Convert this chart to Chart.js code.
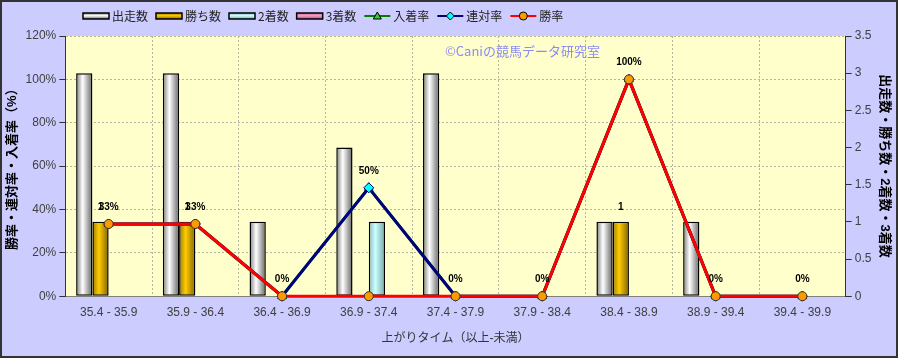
<!DOCTYPE html>
<html>
<head>
    <title>上がりタイム別成績</title>
    <style>
        body {
            margin: 0;
            padding: 0;
            background: #ffffff;
        }
        #chart-box {
            width: 898px;
            height: 358px;
        }
    </style>
    <script src="https://cdn.jsdelivr.net/npm/chart.js"></script>
</head>
<body>
    <div id="chart-box">
        <canvas id="agariChart" width="898" height="358"></canvas>
    </div>
    <script>
        // data
        const categories = ['35.4 - 35.9', '35.9 - 36.4', '36.4 - 36.9', '36.9 - 37.4', '37.4 - 37.9',
                            '37.9 - 38.4', '38.4 - 38.9', '38.9 - 39.4', '39.4 - 39.9'];
        const runs = [3, 3, 1, 2, 3, 0, 1, 1, 0];       // 出走数
        const wins = [1, 1, 0, 0, 0, 0, 1, 0, 0];       // 勝ち数
        const seconds = [0, 0, 0, 1, 0, 0, 0, 0, 0];    // 2着数
        const thirds = [0, 0, 0, 0, 0, 0, 0, 0, 0];     // 3着数
        const placeRate = [33.3, 33.3, 0, 50, 0, 0, 100, 0, 0];   // 入着率
        const quinellaRate = [33.3, 33.3, 0, 50, 0, 0, 100, 0, 0]; // 連対率
        const winRate = [33.3, 33.3, 0, 0, 0, 0, 100, 0, 0];      // 勝率
        const rateTicks = [0, 20, 40, 60, 80, 100, 120];
        const countTicks = [0, 0.5, 1, 1.5, 2, 2.5, 3, 3.5];

        const CAT_PCT = 0.75;
        const BAR_COUNT = 4;

        // cylinder-ish shading for each bar series: [edge, light, far edge]
        const barShades = [
            ['#7c7c7c', '#ffffff', '#646464'],
            ['#a07c00', '#ffcc00', '#806200'],
            ['#88bcbc', '#ccffff', '#78a8a8'],
            ['#c07090', '#ff99cc', '#a05a78']
        ];

        function barFill(c) {
            const shade = barShades[c.datasetIndex];
            const xs = c.chart.scales && c.chart.scales.x;
            if (c.type !== 'data' || !xs || !xs.width) {
                return shade[1];
            }
            const catW = xs.width / categories.length;
            const groupW = catW * CAT_PCT;
            const barW = groupW / BAR_COUNT;
            const left = xs.getPixelForValue(c.dataIndex) - groupW / 2 + c.datasetIndex * barW;
            const g = c.chart.ctx.createLinearGradient(left, 0, left + barW, 0);
            g.addColorStop(0, shade[0]);
            g.addColorStop(0.4, shade[1]);
            g.addColorStop(1, shade[2]);
            return g;
        }

        const backgroundPlugin = {
            id: 'backgroundPlugin',
            beforeDraw(chart) {
                const ctx = chart.ctx;
                const a = chart.chartArea;
                ctx.save();
                ctx.fillStyle = '#ccccff';
                ctx.fillRect(0, 0, chart.width, chart.height);
                ctx.fillStyle = '#ffffcc';
                ctx.fillRect(a.left, a.top, a.right - a.left, a.bottom - a.top);
                ctx.restore();
            },
            afterDraw(chart) {
                const ctx = chart.ctx;
                ctx.save();
                ctx.strokeStyle = '#333333';
                ctx.lineWidth = 2;
                ctx.strokeRect(1, 1, chart.width - 2, chart.height - 2);

                // watermark
                ctx.font = '13px "Noto Sans CJK JP", sans-serif';
                ctx.fillStyle = '#8c8cf5';
                ctx.textBaseline = 'middle';
                ctx.fillText('©Caniの競馬データ研究室', 445, 51);

                // legend
                const items = [
                    { text: '出走数', bar: 0 },
                    { text: '勝ち数', bar: 1 },
                    { text: '2着数', bar: 2 },
                    { text: '3着数', bar: 3 },
                    { text: '入着率', line: '#008000', fill: '#33cc33', style: 'triangle' },
                    { text: '連対率', line: '#000080', fill: '#00ffff', style: 'diamond' },
                    { text: '勝率', line: '#ff0000', fill: '#ff9900', style: 'circle' }
                ];
                ctx.font = '12px "Noto Sans CJK JP", sans-serif';
                let x = 83;
                const y = 16;
                items.forEach(item => {
                    if (item.bar !== undefined) {
                        const s = barShades[item.bar];
                        const g = ctx.createLinearGradient(0, y - 3, 0, y + 3);
                        g.addColorStop(0, s[0]);
                        g.addColorStop(0.45, s[1]);
                        g.addColorStop(1, s[2]);
                        ctx.fillStyle = g;
                        ctx.fillRect(x, y - 3, 26, 6);
                        ctx.strokeStyle = '#000';
                        ctx.lineWidth = 1.5;
                        ctx.strokeRect(x, y - 3, 26, 6);
                    } else {
                        ctx.strokeStyle = item.line;
                        ctx.lineWidth = 2;
                        ctx.beginPath();
                        ctx.moveTo(x, y);
                        ctx.lineTo(x + 26, y);
                        ctx.stroke();
                        ctx.fillStyle = item.fill;
                        ctx.strokeStyle = '#000';
                        ctx.lineWidth = 1;
                        ctx.beginPath();
                        const cx = x + 13;
                        if (item.style === 'circle') {
                            ctx.arc(cx, y, 4, 0, Math.PI * 2);
                        } else if (item.style === 'diamond') {
                            ctx.moveTo(cx, y - 4); ctx.lineTo(cx + 4, y);
                            ctx.lineTo(cx, y + 4); ctx.lineTo(cx - 4, y);
                            ctx.closePath();
                        } else {
                            ctx.moveTo(cx, y - 4); ctx.lineTo(cx + 4, y + 3);
                            ctx.lineTo(cx - 4, y + 3);
                            ctx.closePath();
                        }
                        ctx.fill();
                        ctx.stroke();
                    }
                    ctx.fillStyle = '#222';
                    ctx.textBaseline = 'middle';
                    ctx.fillText(item.text, x + 29, y);
                    x += 29 + ctx.measureText(item.text).width + 8;
                });
                ctx.restore();
            }
        };

        const valueLabelPlugin = {
            id: 'valueLabelPlugin',
            afterDatasetsDraw(chart) {
                const ctx = chart.ctx;
                ctx.save();
                ctx.font = 'bold 10px "Liberation Sans", sans-serif';
                ctx.fillStyle = '#000';
                ctx.textAlign = 'center';
                ctx.textBaseline = 'middle';
                chart.getDatasetMeta(1).data.forEach((el, i) => {
                    if (wins[i] > 0) {
                        ctx.fillText(String(wins[i]), el.x, el.y - 15);
                    }
                });
                chart.getDatasetMeta(5).data.forEach((el, i) => {
                    ctx.fillText(Math.round(quinellaRate[i]) + '%', el.x, el.y - 17);
                });
                ctx.restore();
            }
        };

        Chart.defaults.font.family = '"Liberation Sans", "Noto Sans CJK JP", sans-serif';
        Chart.defaults.font.size = 12;
        Chart.defaults.color = '#404040';

        new Chart(document.getElementById('agariChart').getContext('2d'), {
            type: 'bar',
            data: {
                labels: categories,
                datasets: [
                    { label: '出走数', data: runs, yAxisID: 'y1', order: 3,
                      backgroundColor: barFill, borderColor: '#000', borderWidth: 1.5, borderSkipped: false },
                    { label: '勝ち数', data: wins, yAxisID: 'y1', order: 3,
                      backgroundColor: barFill, borderColor: '#000', borderWidth: 1.5, borderSkipped: false },
                    { label: '2着数', data: seconds, yAxisID: 'y1', order: 3,
                      backgroundColor: barFill, borderColor: '#000', borderWidth: 1.5, borderSkipped: false },
                    { label: '3着数', data: thirds, yAxisID: 'y1', order: 3,
                      backgroundColor: barFill, borderColor: '#000', borderWidth: 1.5, borderSkipped: false },
                    { type: 'line', label: '入着率', data: placeRate, yAxisID: 'y', order: 2, clip: false,
                      borderColor: '#008000', borderWidth: 3, pointStyle: 'triangle', pointRadius: 5,
                      pointBackgroundColor: '#33cc33', pointBorderColor: '#003300', pointBorderWidth: 1 },
                    { type: 'line', label: '連対率', data: quinellaRate, yAxisID: 'y', order: 1, clip: false,
                      borderColor: '#000080', borderWidth: 3, pointStyle: 'rectRot', pointRadius: 5,
                      pointBackgroundColor: '#00ffff', pointBorderColor: '#000080', pointBorderWidth: 1 },
                    { type: 'line', label: '勝率', data: winRate, yAxisID: 'y', order: 0, clip: false,
                      borderColor: '#ff0000', borderWidth: 3, pointStyle: 'circle', pointRadius: 4.5,
                      pointBackgroundColor: '#ff9900', pointBorderColor: '#333', pointBorderWidth: 1 }
                ]
            },
            options: {
                responsive: false,
                animation: false,
                layout: { padding: { left: 3, right: 4, top: 36, bottom: 12 } },
                datasets: {
                    bar: { barPercentage: 1.0, categoryPercentage: CAT_PCT }
                },
                plugins: {
                    legend: { display: false },
                    tooltip: { enabled: false }
                },
                scales: {
                    x: {
                        grid: { color: '#b4b4a0', drawTicks: false },
                        border: { color: '#808080', dash: [2, 2] },
                        ticks: { padding: 9, color: '#404040' },
                        title: { display: true, text: '上がりタイム（以上-未満）', color: '#333', padding: { top: 3, bottom: 0 } }
                    },
                    y: {
                        position: 'left',
                        min: 0,
                        max: 120,
                        afterBuildTicks(axis) {
                            axis.ticks = rateTicks.map(v => ({ value: v }));
                        },
                        ticks: { callback: v => v + '%', padding: 3 },
                        grid: { color: '#b4b4a0', tickColor: '#333', tickLength: 6, tickBorderDash: [] },
                        border: { color: '#333', dash: [2, 2] },
                        title: { display: true, text: '勝率・連対率・入着率（%）', color: '#000',
                                 font: { weight: 'bold', size: 13 }, padding: 2 }
                    },
                    y1: {
                        position: 'right',
                        min: 0,
                        max: 3.5,
                        afterBuildTicks(axis) {
                            axis.ticks = countTicks.map(v => ({ value: v }));
                        },
                        ticks: { callback: v => String(v), padding: 3 },
                        grid: { drawOnChartArea: false, color: '#333', tickLength: 6 },
                        border: { color: '#333' },
                        title: { display: true, text: '出走数・勝ち数・2着数・3着数', color: '#000',
                                 font: { weight: 'bold', size: 13 }, padding: 2 }
                    }
                }
            },
            plugins: [backgroundPlugin, valueLabelPlugin]
        });
    </script>
</body>
</html>
